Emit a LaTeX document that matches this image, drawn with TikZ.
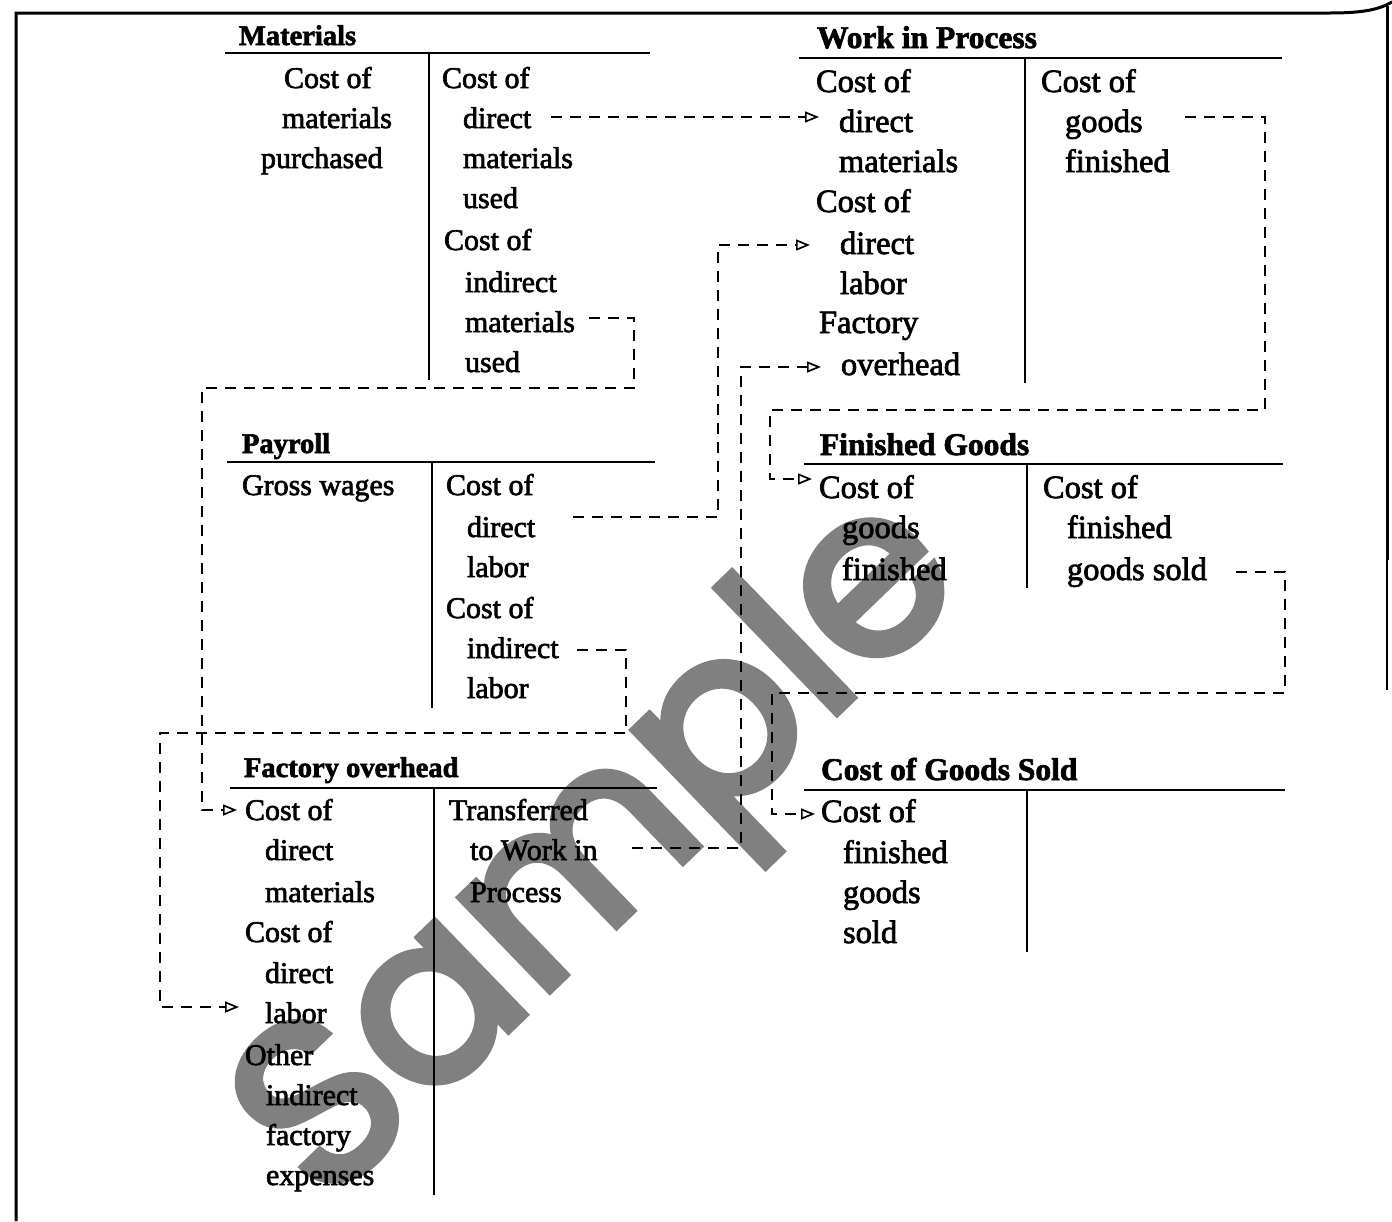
\documentclass[tikz,border=0pt]{standalone}
\usepackage{fontspec}
\setmainfont{Liberation Serif}[FakeBold=2.2]
\newfontfamily\wmfont{Poppins}[FakeBold=3.6]
\usetikzlibrary{arrows.meta}
\definecolor{wmgray}{RGB}{128,128,128}
\begin{document}
\begin{tikzpicture}[x=1pt,y=-1pt,
  txt/.style={anchor=base west,inner sep=0pt,outer sep=0pt,font=\fontsize{30}{36}\selectfont},
  txr/.style={txt,font=\fontsize{32.5}{36}\selectfont},
  ttl/.style={txt,font=\fontsize{28.5}{36}\selectfont\bfseries},
  ttr/.style={txt,font=\fontsize{31.5}{36}\selectfont\bfseries},
  rule/.style={line width=2.4pt},
  flow/.style={line width=1.9pt,dash pattern=on 11pt off 8pt},
  tip/.style={-{Triangle[open,length=14pt,width=11pt,line width=1.7pt]}},
  border/.style={line width=3pt},
  wm/.style={anchor=base east,rotate=44,inner sep=0pt,text=wmgray,font=\wmfont\fontsize{234}{234}\selectfont}]
\useasboundingbox (0,0) rectangle (1392,1221);
% watermark (behind everything)
\node[wm] (wmark) at (970,584) {Sample};
% page border
\draw[border] (16,1221) -- (16,13) -- (1330,13) .. controls (1365,13) and (1380,9) .. (1392,2);
\draw[border] (1387,6) -- (1387,560);
\draw[line width=1.2pt] (1387,560) -- (1387,690);

% ---------- Materials ----------
\node[ttl] (matT) at (239,45) {Materials};
\draw[rule] (225,53) -- (650,53);
\draw[rule] (429,53) -- (429,380);
\node[txt] (m1) at (284,88) {Cost of};
\node[txt] (m2) at (282,128) {materials};
\node[txt] (m3) at (261,168) {purchased};
\node[txt] (m4) at (442,88) {Cost of};
\node[txt] (md) at (463,128) {direct};
\node[txt] (m6) at (463,168) {materials};
\node[txt] (m7) at (463,208) {used};
\node[txt] (m8) at (444,250) {Cost of};
\node[txt] (m9) at (465,292) {indirect};
\node[txt] (mim) at (465,332) {materials};
\node[txt] (m11) at (465,372) {used};

% ---------- Work in Process ----------
\node[ttr] (wipT) at (817,48) {Work in Process};
\draw[rule] (799,58) -- (1282,58);
\draw[rule] (1025,58) -- (1025,383);
\node[txr] (w1) at (816,92) {Cost of};
\node[txr] (wdm) at (839,132) {direct};
\node[txr] (w3) at (839,172) {materials};
\node[txr] (w4) at (816,212) {Cost of};
\node[txr] (wdl) at (840,254) {direct};
\node[txr] (w6) at (840,294) {labor};
\node[txr] (w7) at (819,333) {Factory};
\node[txr] (woh) at (841,375) {overhead};
\node[txr] (w9) at (1041,92) {Cost of};
\node[txr] (wgf) at (1065,132) {goods};
\node[txr] (w11) at (1065,172) {finished};

% ---------- Payroll ----------
\node[ttl] (payT) at (242,453) {Payroll};
\draw[rule] (227,462) -- (655,462);
\draw[rule] (432,462) -- (432,708);
\node[txt] (p1) at (242,495) {Gross wages};
\node[txt] (p2) at (446,495) {Cost of};
\node[txt] (pdl) at (467,537) {direct};
\node[txt] (p4) at (467,577) {labor};
\node[txt] (p5) at (446,618) {Cost of};
\node[txt] (pil) at (467,658) {indirect};
\node[txt] (p7) at (467,698) {labor};

% ---------- Finished Goods ----------
\node[ttr] (fgT) at (820,455) {Finished Goods};
\draw[rule] (804,464) -- (1283,464);
\draw[rule] (1027,464) -- (1027,588);
\node[txr] (fcg) at (819,498) {Cost of};
\node[txr] (g2) at (842,538) {goods};
\node[txr] (g3) at (842,580) {finished};
\node[txr] (g4) at (1043,498) {Cost of};
\node[txr] (g5) at (1067,538) {finished};
\node[txr] (fgs) at (1067,580) {goods sold};

% ---------- Factory overhead ----------
\node[ttl] (foT) at (244,777) {Factory overhead};
\draw[rule] (230,788) -- (657,788);
\draw[rule] (434,788) -- (434,1195);
\node[txt] (fcd) at (245,820) {Cost of};
\node[txt] (f2) at (265,860) {direct};
\node[txt] (f3) at (265,902) {materials};
\node[txt] (f4) at (245,942) {Cost of};
\node[txt] (f5) at (265,983) {direct};
\node[txt] (fdl) at (265,1023) {labor};
\node[txt] (f7) at (245,1065) {Other};
\node[txt] (f8) at (266,1105) {indirect};
\node[txt] (f9) at (266,1145) {factory};
\node[txt] (f10) at (266,1185) {expenses};
\node[txt] (f11) at (449,820) {Transferred};
\node[txt] (ftw) at (470,860) {to Work in};
\node[txt] (f13) at (470,902) {Process};

% ---------- Cost of Goods Sold ----------
\node[ttr] (cgsT) at (821,780) {Cost of Goods Sold};
\draw[rule] (804,790) -- (1285,790);
\draw[rule] (1027,790) -- (1027,952);
\node[txr] (ccf) at (821,822) {Cost of};
\node[txr] (c2) at (843,863) {finished};
\node[txr] (c3) at (843,903) {goods};
\node[txr] (c4) at (843,943) {sold};

% ---------- connectors ----------
% direct materials -> WIP
\draw[flow,tip] ([shift={(88,-11)}]md.base west) -- ([shift={(-20,-15)}]wdm.base west);
% indirect materials -> Factory overhead
\draw[flow,tip] ([shift={(124,-14)}]mim.base west) -| (634,388)
  -| ([shift={(-43,-10)}]fcd.base west) -- ([shift={(-8,-10)}]fcd.base west);
% direct labor -> WIP
\draw[flow,tip] ([shift={(106,-20)}]pdl.base west) -| ([shift={(-122,-9)}]wdl.base west)
  -- ([shift={(-30,-9)}]wdl.base west);
% indirect labor -> Factory overhead
\draw[flow,tip] ([shift={(110,-8)}]pil.base west) -| (626,733)
  -| ([shift={(-105,-16)}]fdl.base west) -- ([shift={(-26,-16)}]fdl.base west);
% overhead transferred -> WIP
\draw[flow,tip] ([shift={(162,-12)}]ftw.base west) -| ([shift={(-100,-8)}]woh.base west)
  -- ([shift={(-20,-8)}]woh.base west);
% goods finished -> Finished Goods
\draw[flow,tip] ([shift={(120,-15)}]wgf.base west) -| (1265,410)
  -| ([shift={(-49,-19)}]fcg.base west) -- ([shift={(-7,-19)}]fcg.base west);
% goods sold -> Cost of Goods Sold
\draw[flow,tip] ([shift={(169,-8)}]fgs.base west) -| (1285,693)
  -| ([shift={(-49,-8)}]ccf.base west) -- ([shift={(-6,-8)}]ccf.base west);
\end{tikzpicture}
\end{document}
